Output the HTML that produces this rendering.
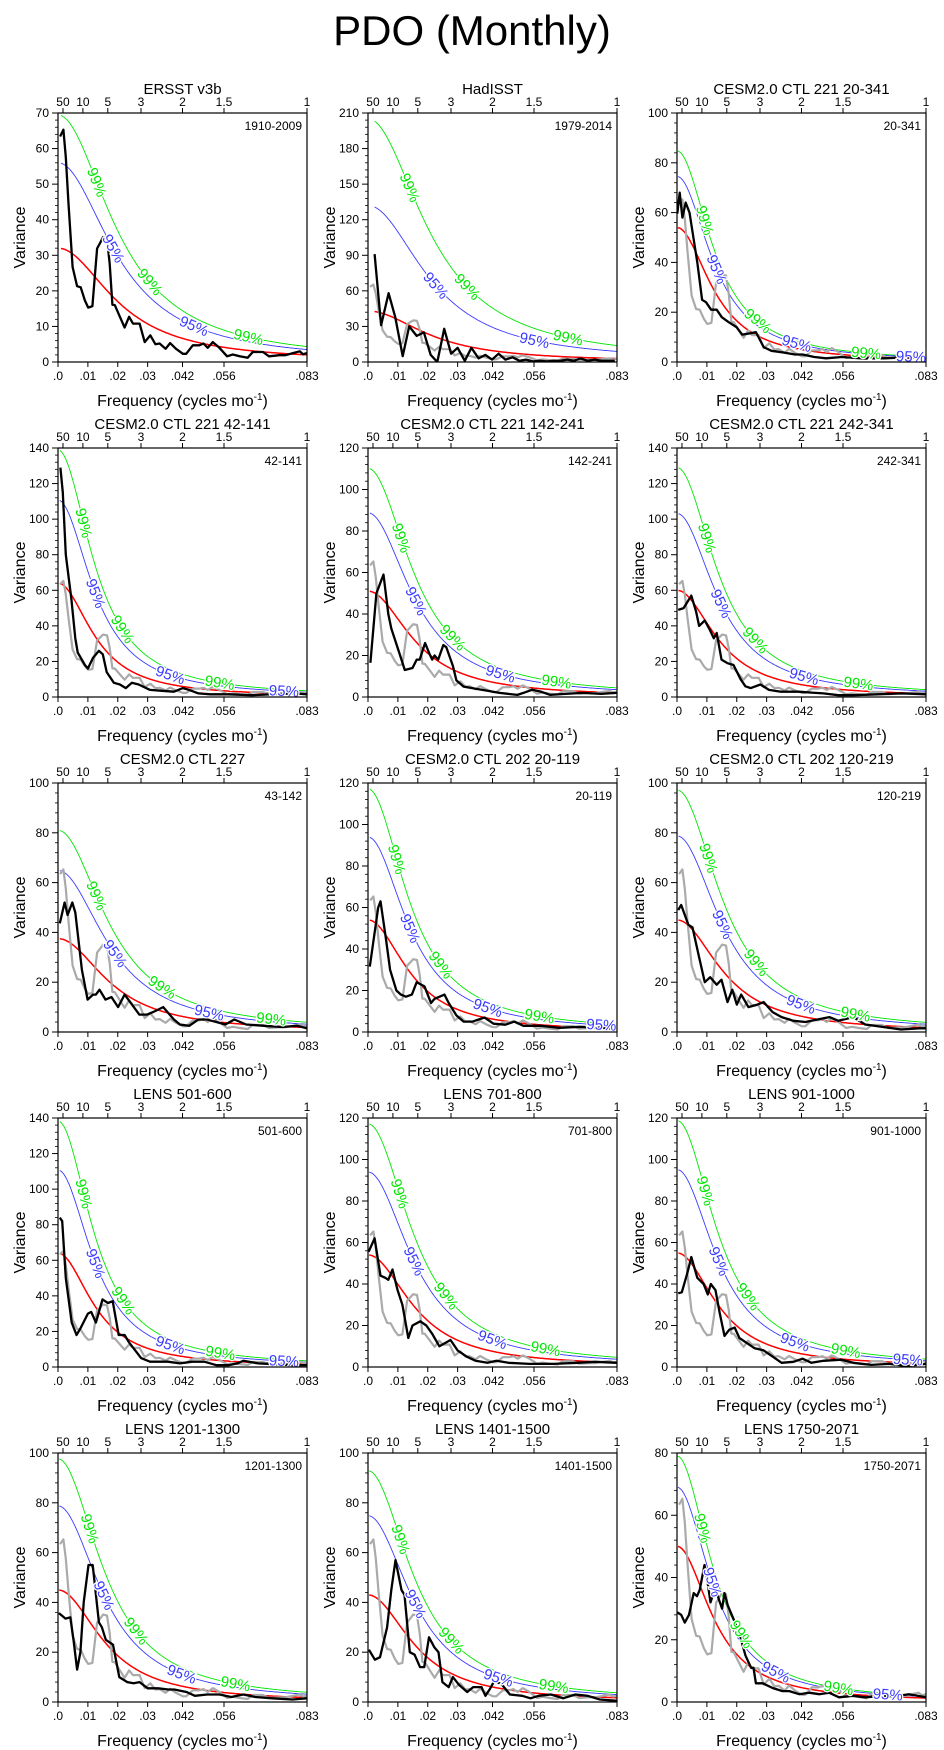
<!DOCTYPE html>
<html><head><meta charset="utf-8"><style>
html,body{margin:0;padding:0;background:#fff;}
svg{display:block;font-family:"Liberation Sans",sans-serif;}
</style></head><body>
<svg id="fig" width="944" height="1750" viewBox="0 0 944 1750">
<text x="472" y="45" text-anchor="middle" font-size="42">PDO (Monthly)</text>
</svg>
<script>
// ---- panel metadata ----
const panelTitles=["ERSST v3b","HadISST","CESM2.0 CTL 221 20-341","CESM2.0 CTL 221 42-141","CESM2.0 CTL 221 142-241","CESM2.0 CTL 221 242-341","CESM2.0 CTL 227","CESM2.0 CTL 202 20-119","CESM2.0 CTL 202 120-219","LENS 501-600","LENS 701-800","LENS 901-1000","LENS 1201-1300","LENS 1401-1500","LENS 1750-2071"];
const panelInsets=["1910-2009","1979-2014","20-341","42-141","142-241","242-341","43-142","20-119","120-219","501-600","701-800","901-1000","1201-1300","1401-1500","1750-2071"];
const yMaxes=[70,210,100,140,120,140,100,120,100,140,120,120,100,100,80];
const ySteps=[10,30,20,20,20,20,20,20,20,20,20,20,20,20,20];
const redStart=[32,43,54,64,51,60,37.5,54,45,64,54,55,45,43,50];
const redR=[0.875,0.87,0.92,0.92,0.9,0.91,0.89,0.91,0.9,0.92,0.9,0.91,0.9,0.9,0.92];
const ci95=[1.75,3.07,1.38,1.73,1.74,1.72,1.73,1.74,1.75,1.73,1.74,1.73,1.75,1.74,1.38];
const ci99=[2.17,4.77,1.57,2.17,2.16,2.15,2.16,2.17,2.16,2.16,2.17,2.16,2.17,2.16,1.58];
const curveStart=[1.0,2.2,0.3,0.6,0.6,0.5,0.6,0.6,0.5,0.6,0.4,0.5,0.4,0.4,0.3];
// frequency ticks (units of 1e-3 cycles/mo)
const xTickVals=[0,10,20,30,41.667,55.556,83.333];
const xTickLabels=[".0",".01",".02",".03",".042",".056",".083"];
const periodTicks=[50,10,5,3,2,1.5,1];
// ---- spectra (freq in 1e-3 cycles/mo, variance) ----
const refF=[0.7,1.8,2.6,3.5,4.9,6.4,7.6,9,10.1,11.5,13.1,14,15.1,16.4,17.3,18.2,19,20.7,22.3,23.8,25.1,27.3,29,30.9,32.6,34,36,37.5,39.5,41.8,42.9,45.1,47.3,48.7,50.1,51.8,54,56.6,58.5,60.8,63.5,65.2,68.6,70.6,74.1,76.1,78.6,80.9,82,83.3];
const refV=[63.4,65.3,57.6,44.5,26.7,21.3,21,17.3,15.3,15.7,31.9,33.3,35.1,34.7,27.6,16.1,16,12.7,9.7,12.7,10.8,10.8,5.6,7.5,5,5.2,3.7,5.3,3.7,2.3,2.3,4.7,4.7,5.2,4,5.6,4,1.6,2.1,1.6,1.2,2.8,2.8,1.6,1.9,1.9,2.5,3,2.2,2.5];
const p2F=[2.2,4.4,6.9,9.1,11.6,13.8,16.3,18.7,21,23.2,25.5,27.8,30,32.4,34.6,37,39.3,41.5,43.7,46,48.4,50.7,52.9,55.2,57.6,59.8,62,64.4,66.7,68.9,71.1,73.5,75.8,78.1,80.3,82.6];
const p2V=[91,31,58,38,5,30,22,25,6,0,28,7,12,1,12,3,6,2,7,2,4,1,2,0.5,1,0.5,1,1,2,1,3,1,2,1,1,1];
const p3F=[0.1,0.9,1.8,2.9,4.2,5.5,6.8,8.4,9.7,11.4,13.3,15,17.3,19.9,21.8,24.4,26.4,27.7,29,31.6,35.6,39.5,42,46,49.9,55.2,61.7,69.5,80,83.3];
const p3V=[59.6,68,58,64,60,50,40,25,24,21,21,18,16,14,11,11.5,12,9,6,4.5,3.8,3,3,2,1.5,2,1.5,1.5,2,1.5];
const p4F=[0.8,1.6,2.6,4.5,5.8,6.6,9,10,11.7,13.7,15,16.3,18.7,20.7,22.7,24.7,27,30.8,34.8,38.8,41.8,43.9,47,51,57,65,71,79,83.3];
const p4V=[129,115,80,55,33,25,18,16,22,26,24,14,8,7,5,8,7,4,3.5,3,5,4,2,1.5,1.5,1,1.5,2,1.5];
const p5F=[0.8,2.8,5.2,6.8,7.8,10.3,12.3,14.9,16.3,17.3,19.1,20.5,21.5,22.3,23.5,25.2,26.2,28.4,29.6,32,36,40,44,50,52,55,58,61,66,72,78,83.3];
const p5V=[16.5,50,59,40,33,22,13,14,18,18,26,21,18,20,18,25,24,15,8,5,4,3,2,1,2,3.5,2.5,1,1.5,2,1.5,2];
const p6F=[0.4,2.2,4.8,6.4,7.4,9.3,10.9,12.3,13.3,14.9,16.9,18.9,21.3,22.9,24.7,27.9,30.8,34.8,40.8,45,49,54,59,67,75,83.3];
const p6V=[49,50,57,48,40,43,38,33,36,21,19,18,10,6,5,7,4,3,3,2.5,2,1,1,1.5,2,1.5];
const p7F=[0.6,2.2,3.2,4.8,5.8,8,9.9,11.7,12.7,13.9,15.9,17.9,20.1,22.3,27.2,29.8,31.8,35.2,38.8,40.8,43.9,47,50,53,56,59,63,69,75,80,83.3];
const p7V=[43.6,52,47,52,48,25,13,15,15,17,13,14,10,15,7,7,8,10,5,3,2.5,5,5,4,3,5,3,2.5,2,2.5,1.5];
const p8F=[0.6,3.4,4.2,6,7.4,9.5,11,12.7,14.7,16.3,18.9,21.1,22.3,25.6,27,29.6,32,35,39,42,46,49,52,58,64,71,78,83.3];
const p8V=[31.5,60,63,45,30,20,18,17,18,24,22,14,16,18,14,8,5,5,7,4,3.5,5,3,3,2,2.5,2,1.5];
const p9F=[0.4,1.4,3.8,5.2,7.4,9.3,11.1,13.3,14.9,16.9,18.5,20,21.5,23.9,26.9,29,32,35,39,43,47,51,54,59,63,69,75,81,83.3];
const p9V=[49,51,43,42,30,20,22,19,21,12,17,11,15,10,11,12,8,6,4.5,4,5,6,4.5,6,3,2,1,1.5,1.5];
const p10F=[0.6,1.4,2.6,4.6,6.2,7.6,10,11.1,12.7,14.9,16.7,18.3,20.3,22.3,23.7,27.8,30.8,36.8,40.8,44.9,49,53,57,60,62,67,73,79,83.3];
const p10V=[84,82,50,25,18,22,30,31,25,38,36,37,18,18,14,5,3,3,2,3,3,1,1,2,3.5,2,1.5,1,1];
const p11F=[0.2,2.2,4.2,5.8,6.8,8.2,9.9,11.5,13.5,14.9,17.5,19.5,21.5,23.9,27.6,30,33,36,40,43,47,54,62,70,76,83.3];
const p11V=[55.5,62,44,43,42,47,37,30,14,20,22,20,16,10,13,8,5,3,2,3,2,1.5,1.5,2,2.5,2];
const p12F=[0.4,1.6,3.4,4.8,6.8,8.9,10.3,11.3,12.9,14.3,15.9,17.5,19.3,20.9,22.9,26,29,32,35,39,42,45,49,55,59,65,71,77,83.3];
const p12V=[35.5,36,45,53,43,40,35,40,37,26,15,18,19,14,12,9,8,5,2,2.5,4,2,3,3.5,2,1,1.5,0.5,1.5];
const p13F=[0.3,2.5,4.1,5.2,6.4,7.5,8.6,10.2,11.6,13.7,14.7,16,18.4,20.5,23.2,25.3,27.3,30,33.5,36.9,38.9,43,45.8,49.9,54,58,62,66,71.7,78.5,83.3];
const p13V=[35.7,33.5,34,25,13,20,40,55,55,32,30,25,23,10,8,7.5,8,5.5,5.5,5,5,4,2.5,3,3,2,3,2,1.5,1,1.5];
const p14F=[0.3,2.3,4,6.4,7.8,9.2,11.2,12.2,14,15.6,17.4,18.8,20.4,22.2,23.6,24.9,27,28.4,30.4,33.2,35.2,38,39.3,40.7,42.3,44.8,47.5,51.6,54.4,57.1,61.2,65.3,69.4,73.5,77.6,83.3];
const p14V=[21,17,18,30,45,57,45,43,20,19,14,14,26,22,20,8,6,10,7,4,6,6,2.5,5,8.5,7,3,2.5,1.5,2.5,3,1.5,3,2.5,1,0.5];
const p15F=[0.1,1.4,2.6,4,5.6,6.7,7.6,9.2,10,11.2,12.9,14,15.1,15.9,17,19.2,20.9,22.9,24.8,25.6,26.4,28.7,32,35.3,37.6,40.9,44.2,47.6,50.9,54.2,58.7,63.1,68.7,74.2,77.6,83.3];
const p15V=[28.8,28,25.5,28,35,34,36,44,40,32,37,33,30,35,31,26,22,15,11,11,6,6,4.5,3.5,3.5,2.5,3,2.5,3,1.5,2,1.5,2,2,2.5,1.5];
const blackF=[refF,p2F,p3F,p4F,p5F,p6F,p7F,p8F,p9F,p10F,p11F,p12F,p13F,p14F,p15F];
const blackV=[refV,p2V,p3V,p4V,p5V,p6V,p7V,p8V,p9V,p10V,p11V,p12V,p13V,p14V,p15V];

const NS="http://www.w3.org/2000/svg";
const svg=document.getElementById('fig');
function mk(tag,attrs,parent,text){const e=document.createElementNS(NS,tag);for(const k in attrs)e.setAttribute(k,attrs[k]);if(text!==undefined)e.textContent=text;(parent||svg).appendChild(e);return e;}
const colLefts=[58,368,677], rowTops=[113,448,783,1118,1453], W=249, H=249, FMAX=83.333;

function redSpec(p,f){const r=redR[p];const w=2*Math.PI*f/1000;return redStart[p]*(1-r)*(1-r)/(1+r*r-2*r*Math.cos(w));}

for(let p=0;p<15;p++){
  const L=colLefts[p%3], T=rowTops[Math.floor(p/3)];
  const g=mk('g',{});
  
  
  const xs=f=>L+f/FMAX*W, ys=v=>T+H-v/yMaxes[p]*H;
  const cid='clip'+p;
  const cp=mk('clipPath',{id:cid},g);mk('rect',{x:L,y:T,width:W,height:H},cp);
  const t=mk('text',{x:L+W/2,y:T-19,'text-anchor':'middle','font-size':15},g,panelTitles[p]);
  
  const ins=mk('text',{x:L+W-5,y:T+17,'text-anchor':'end','font-size':12},g,panelInsets[p]);
  
  const yt=mk('g',{},g);
  for(let v=0;v<=yMaxes[p]+1e-9;v+=ySteps[p]){
    mk('line',{x1:L-6,x2:L,y1:ys(v),y2:ys(v),stroke:'#000','stroke-width':1},yt);
    mk('text',{x:L-9,y:ys(v)+4,'text-anchor':'end','font-size':12},yt,String(v));
    if(v<yMaxes[p]){for(let k=1;k<5;k++){const vv=v+ySteps[p]*k/5;mk('line',{x1:L-3,x2:L,y1:ys(vv),y2:ys(vv),stroke:'#000','stroke-width':0.8},yt);}}
  }
  const yl=mk('text',{x:0,y:0,'text-anchor':'middle','font-size':16,transform:`translate(${L-33},${T+H/2}) rotate(-90)`},g,'Variance');
  
  const xt=mk('g',{},g);
  xTickVals.forEach((f,i)=>{mk('line',{x1:xs(f),x2:xs(f),y1:T+H,y2:T+H+5,stroke:'#000','stroke-width':1},xt);
    mk('text',{x:xs(f),y:T+H+18,'text-anchor':'middle','font-size':12},xt,xTickLabels[i]);});
  const xl=mk('text',{x:L+W/2,y:T+H+44,'text-anchor':'middle','font-size':16},g);
  
  xl.appendChild(document.createTextNode('Frequency (cycles mo'));
  mk('tspan',{dy:-6,'font-size':10},xl,'-1');
  mk('tspan',{dy:6},xl,')');
  const pt=mk('g',{},g);
  periodTicks.forEach(P=>{const f=1000/(12*P);mk('line',{x1:xs(f),x2:xs(f),y1:T-5,y2:T,stroke:'#000','stroke-width':1},pt);
    mk('text',{x:xs(f),y:T-7,'text-anchor':'middle','font-size':12},pt,String(P));});
  const cg=mk('g',{'clip-path':`url(#${cid})`},g);
  const fs=[];for(let f=curveStart[p];f<=FMAX+0.01;f+=0.25)fs.push(f);
  function curvePts(mult){return fs.map(f=>[xs(f),ys(redSpec(p,f)*mult)]);}
  const levels=[[ci99[p],'#00e600',0.9,'99%','ci99-curve'],[ci95[p],'#3a3aff',0.9,'95%','ci95-curve'],[1,'#ff0000',1.5,null,'red-noise-curve']];
  const labels=[];
  levels.forEach(([m,col,sw,lab,nm])=>{
    const pts=curvePts(m);
    const pl=mk('polyline',{points:pts.map(q=>q[0].toFixed(1)+','+q[1].toFixed(1)).join(' '),fill:'none',stroke:col,'stroke-width':sw},cg);
    
    if(lab){let arc=0,next=(lab==='99%'?75:100);
      for(let i=1;i<pts.length;i++){const dx=pts[i][0]-pts[i-1][0],dy=pts[i][1]-pts[i-1][1];arc+=Math.hypot(dx,dy);
        if(arc>=next&&pts[i][1]>T+6&&pts[i][0]<L+W-14){labels.push([pts[i][0],pts[i][1],Math.atan2(dy,dx)*180/Math.PI,col,lab]);next+=115;}}}
  });
  if(p>0){const gr=mk('polyline',{points:refF.map((f,i)=>xs(f).toFixed(1)+','+ys(refV[i]).toFixed(1)).join(' '),fill:'none',stroke:'#aaaaaa','stroke-width':2.2,'stroke-linejoin':'round'},cg);
    }
  const bl=mk('polyline',{points:blackF[p].map((f,i)=>xs(f).toFixed(1)+','+ys(blackV[p][i]).toFixed(1)).join(' '),fill:'none',stroke:'#000','stroke-width':2.3,'stroke-linejoin':'round'},cg);
  
  labels.forEach(([x,y,a,col,lab])=>{
    const tx=mk('text',{x:0,y:0,'text-anchor':'middle','font-size':15,fill:col,stroke:'#fff','stroke-width':2.5,'paint-order':'stroke',transform:`translate(${x.toFixed(1)},${y.toFixed(1)}) rotate(${a.toFixed(1)}) translate(0,5)`},g,lab);
    
  });
  const fr=mk('rect',{x:L,y:T,width:W,height:H,fill:'none',stroke:'#000','stroke-width':1.2},g);
  
}
</script>
</body></html>
